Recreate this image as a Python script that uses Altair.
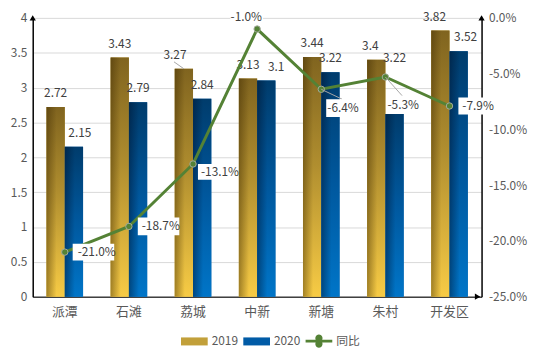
import altair as alt
import pandas as pd

# ---------------- data ----------------
cats = ["派潭", "石滩", "荔城", "中新", "新塘", "朱村", "开发区"]
years = ["2019", "2020"]
v2019 = [2.72, 3.43, 3.27, 3.13, 3.44, 3.40, 3.82]
v2020 = [2.15, 2.79, 2.84, 3.10, 3.22, 2.62, 3.52]
lab2019 = ["2.72", "3.43", "3.27", "3.13", "3.44", "3.4", "3.82"]
lab2020 = ["2.15", "2.79", "2.84", "3.1", "3.22", "3.22", "3.52"]
yoy = [-21.0, -18.7, -13.1, -1.0, -6.4, -5.3, -7.9]
left_ticks = [0, 0.5, 1, 1.5, 2, 2.5, 3, 3.5, 4]
right_ticks = [-0.25, -0.20, -0.15, -0.10, -0.05, 0.0]
legend_items = ["2019", "2020", "同比"]

rows = []
for yr, vals, labs in [("2019", v2019, lab2019), ("2020", v2020, lab2020)]:
    for c, v, l in zip(cats, vals, labs):
        rows.append({"cat": c, "year": yr, "value": v, "label": l, "labely": float(l)})
bars_df = pd.DataFrame(rows)
line_df = pd.DataFrame({
    "cat": cats,
    "yoy": [v / 100 for v in yoy],
    "text": [f"{v:.1f}%" for v in yoy],
})
one_df = pd.DataFrame({"k": [0]})

# ---------------- style ----------------
W, H = 454, 282
FONT = "Noto Sans CJK SC"
TXT = "#404040"
AX = "#595959"
GREEN = "#548235"

bar_label_dx = {"2019": [0, 0, -9, 0, 0, -6, -6], "2020": [6, 0, 0, 10, 0, 0, 7]}
line_label_style = {
    "派潭": (13, 0, "left", "M8,-8.5H50V8.5H8Z", None),
    "石滩": (13, 0, "left", "M9,-9H51V9H9Z", None),
    "荔城": (8, 8, "left", "M5,0H44V16H5Z", None),
    "中新": (-11, -12, "center", "M-27,-20H6V-4H-27Z", None),
    "新塘": (22, 19, "center", "M5,10H38V28H5Z", "M0,0L21,10"),
    "朱村": (18, 28, "center", "M3,19H34V37H3Z", "M0,0L17,19"),
    "开发区": (13, 0, "left", "M9,-8.5H42V8.5H9Z", None),
}


def grad(stops, horizontal=False):
    return alt.Gradient(
        gradient="linear",
        stops=[alt.GradientStop(offset=o, color=c) for o, c in stops],
        x1=0, y1=0, x2=1 if horizontal else 0, y2=0 if horizontal else 1,
    )


base_grad = {
    "2019": grad([(0, "#80641f"), (0.45, "#b08e2f"), (1, "#f7cb45")]),
    "2020": grad([(0, "#003c6c"), (0.5, "#00589e"), (1, "#0075c8")]),
}
shade_grad = {
    "2019": grad([(0, "rgba(60,40,0,0.45)"), (0.55, "rgba(60,40,0,0)"), (1, "rgba(60,40,0,0)")], True),
    "2020": grad([(0, "rgba(0,15,40,0.45)"), (0.55, "rgba(0,15,40,0)"), (1, "rgba(0,15,40,0)")], True),
}

RECT_SYM = "M-1,-0.3H1V0.3H-1Z"
LINE_SYM = ("M-1,-0.11H-0.2466A0.27,0.27 0 1 1 0.2466,-0.11H1V0.11H0.2466"
            "A0.27,0.27 0 1 1 -0.2466,0.11H-1Z")

# ---------------- encodings (identical objects reused in every layer) ----------------
x_enc = alt.X(
    "cat:N", sort=cats,
    scale=alt.Scale(paddingInner=0.43, paddingOuter=0.215),
    axis=alt.Axis(title=None, labelAngle=0, ticks=False, domainColor="#404040",
                  domainWidth=1.5, labelPadding=9, labelFontSize=13,
                  labelColor=AX, labelFont=FONT),
)
xo = alt.XOffset("year:N", sort=years,
                 scale=alt.Scale(domain=years, paddingInner=0, paddingOuter=0))

left_axis = alt.Axis(title=None, values=left_ticks, format="~g", grid=True,
                     gridColor="#d9d9d9", gridWidth=1, domainColor="#000000",
                     domainWidth=1.5, ticks=False, labelPadding=6, labelFontSize=12,
                     labelColor=AX, labelFont=FONT)
left_scale = alt.Scale(domain=[0, 4], nice=False)
y_left = alt.Y("value:Q", scale=left_scale, axis=left_axis)
y_lab = alt.Y("labely:Q", scale=left_scale, axis=left_axis)

y_right = alt.Y(
    "yoy:Q", scale=alt.Scale(domain=[-0.25, 0], nice=False),
    axis=alt.Axis(orient="right", title=None, values=right_ticks,
                  labelExpr="(datum.value < -0.0001 ? '-' : '') + format(abs(datum.value), '.1%')",
                  grid=False, domainColor="#000000", domainWidth=1.5, ticks=False,
                  labelPadding=7, labelFontSize=12, labelColor=AX, labelFont=FONT),
)

legend = alt.Legend(
    title=None, orient="none", legendX=150, legendY=313, direction="horizontal",
    symbolType={"expr": "datum.value === '同比' ? '" + LINE_SYM + "' : '" + RECT_SYM + "'"},
    symbolSize=729, labelFontSize=12, labelColor=AX,
    labelFont=FONT, labelOffset=4, columnPadding=5, padding=0,
    symbolStrokeWidth=0, symbolOpacity=1,
)

bars_base = alt.Chart(bars_df)

layers_left = [
    bars_base.mark_bar().encode(
        x=x_enc, xOffset=xo, y=y_left,
        color=alt.Color("year:N", scale=alt.Scale(domain=legend_items,
                        range=["#c2a03a", "#005ba6", GREEN]), legend=legend),
    )
]
for yr in years:
    layers_left.append(
        bars_base.transform_filter(alt.datum.year == yr)
        .mark_bar(color=base_grad[yr]).encode(x=x_enc, xOffset=xo, y=y_left)
    )
    layers_left.append(
        bars_base.transform_filter(alt.datum.year == yr)
        .mark_bar(color=shade_grad[yr]).encode(x=x_enc, xOffset=xo, y=y_left)
    )
for yr in years:
    groups = {}
    for c, dx in zip(cats, bar_label_dx[yr]):
        groups.setdefault(dx, []).append(c)
    for dx, members in groups.items():
        layers_left.append(
            bars_base.transform_filter(alt.datum.year == yr)
            .transform_filter(alt.FieldOneOfPredicate(field="cat", oneOf=members))
            .mark_text(dx=dx, dy=-14, baseline="middle", align="center",
                       font=FONT, fontSize=12, color=TXT)
            .encode(x=x_enc, xOffset=xo, y=y_lab, text="label:N")
        )
layers_left.append(
    bars_base.transform_filter((alt.datum.year == "2019") & (alt.datum.cat == "荔城"))
    .mark_point(shape="M0,0L-10,-7", size=4, filled=False, stroke="#a6a6a6",
                strokeWidth=1, opacity=1)
    .encode(x=x_enc, xOffset=xo, y=y_left)
)
# axis arrow heads (at the ends of the axis lines)
arrow = alt.Chart(one_df)
y_top = alt.Y(datum=4, scale=left_scale, axis=left_axis)
y_bot = alt.Y(datum=0, scale=left_scale, axis=left_axis)
layers_left += [
    arrow.mark_point(shape="triangle-up", size=40, filled=True, color="black", opacity=1)
    .encode(x=alt.value(0), y=y_top),
    arrow.mark_point(shape="triangle-up", size=40, filled=True, color="black", opacity=1)
    .encode(x=alt.value(W), y=y_top),
    arrow.mark_point(shape="triangle-right", size=40, filled=True, color="black", opacity=1)
    .encode(x=alt.value(W - 4), y=y_bot),
]
left = alt.layer(*layers_left)

line_base = alt.Chart(line_df)
layers_right = [
    line_base.mark_line(color=GREEN, strokeWidth=3).encode(x=x_enc, y=y_right),
    line_base.mark_circle(size=42, color=GREEN, opacity=1, stroke="#a3ab9c",
                          strokeWidth=1).encode(x=x_enc, y=y_right),
]
for c in cats:
    dx, dy, align, box, leader = line_label_style[c]
    sub = line_base.transform_filter(alt.datum.cat == c)
    if leader:
        layers_right.append(
            sub.mark_point(shape=leader, size=4, filled=False, stroke="#a6a6a6",
                           strokeWidth=1, opacity=1).encode(x=x_enc, y=y_right)
        )
    layers_right.append(
        sub.mark_point(shape=box, size=4, filled=True, color="white", opacity=1,
                       strokeWidth=0).encode(x=x_enc, y=y_right)
    )
    layers_right.append(
        sub.mark_text(dx=dx, dy=dy, align=align, baseline="middle", font=FONT,
                      fontSize=12, color=TXT).encode(x=x_enc, y=y_right, text="text:N")
    )
right = alt.layer(*layers_right)

chart = (
    alt.layer(left, right)
    .resolve_scale(y="independent")
    .properties(
        width=W, height=H,
        autosize=alt.AutoSizeParams(type="none"),
        padding={"left": 25, "top": 8, "right": 50, "bottom": 60},
        background="white",
    )
    .configure_view(stroke=None)
    .configure_text(font=FONT)
)

chart.save("out.html", embed_options={"renderer": "svg", "actions": False})
